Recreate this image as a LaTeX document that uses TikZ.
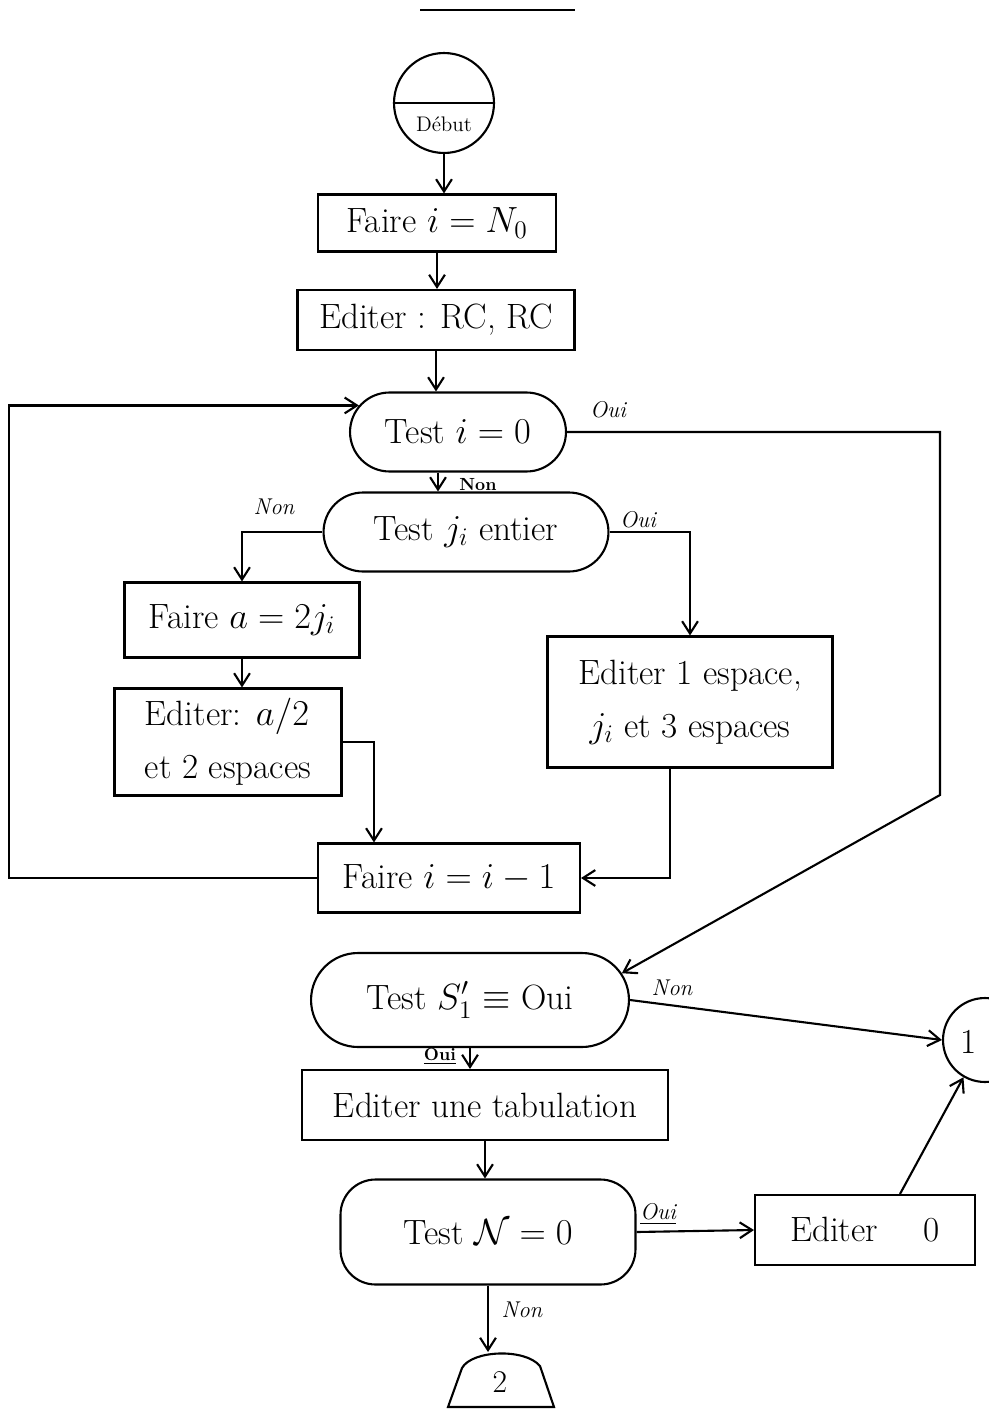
\documentclass[tikz,border=0pt]{standalone}
\usepackage{amsmath}
\usepackage{amssymb}
\usepackage{tikz}
\usetikzlibrary{shapes.misc, arrows.meta, calc}

\begin{document}
\begin{tikzpicture}[x=0.02cm, y=-0.02cm, line width=1.2pt,
        boite/.style={draw, rectangle, inner sep=2pt, align=center,
            font=\fontsize{20}{30}\selectfont},
        test/.style={draw, rounded rectangle, inner sep=2pt,
            font=\fontsize{20}{30}\selectfont},
        renvoi/.style={draw, circle, inner sep=0pt,
            font=\fontsize{20}{24}\selectfont},
        etiq/.style={font=\fontsize{13}{15}\selectfont\itshape},
        fl/.style={-{Straight Barb[length=7pt, width=9pt]}}]
        \useasboundingbox (0, 0) rectangle (988, 1409);

        % Debut
        \draw (420, 10) -- (575, 10);
        \node[renvoi, minimum size=2cm] (debut) at (444, 103) {};
        \draw (debut.west) -- (debut.east);
        \node[font=\fontsize{12}{14}\selectfont] (debutlbl) at (444, 124) {Début};

        % Initialisation
        \node[boite, minimum width=4.76cm, minimum height=1.14cm] (faire1) at (437, 223) {Faire $i = N_0$};
        \node[boite, minimum width=5.54cm, minimum height=1.2cm] (editer1) at (436, 320) {Editer : RC, RC};
        \node[test, minimum width=4.46cm, minimum height=1.58cm] (testi) at (458, 432) {Test $i = 0$};
        \node[test, minimum width=5.84cm, minimum height=1.58cm] (testj) at (466, 532) {Test $j_i$ entier};

        % Boucle
        \node[boite, minimum width=4.7cm, minimum height=1.5cm] (fairea) at (242, 620) {Faire $a = 2j_i$};
        \node[boite, align=left, minimum width=4.54cm, minimum height=2.14cm] (editera) at (228, 742) {Editer: $a/2$\\et 2 espaces};
        \node[boite, minimum width=5.7cm, minimum height=2.62cm] (editsp) at (690, 702) {Editer 1 espace,\\$j_i$ et 3 espaces};
        \node[boite, minimum width=5.24cm, minimum height=1.38cm] (faire2) at (449, 878) {Faire $i = i - 1$};

        % Fin
        \node[test, minimum width=6.5cm, minimum height=1.88cm] (testS) at (470, 1000) {Test $S'_1 \equiv$ Oui};
        \node[boite, minimum width=7.32cm, minimum height=1.4cm] (editab) at (485, 1105) {Editer une tabulation};
        \node[boite, rounded corners=0.7cm, minimum width=5.9cm, minimum height=2.1cm] (testN) at (488, 1232) {Test $\mathcal{N} = 0$};
        \node[boite, minimum width=4.4cm, minimum height=1.4cm] (edit0) at (865, 1230) {Editer \quad 0};
        \node[renvoi, minimum size=1.68cm] (c1) at (985, 1040) {};
        \node[font=\fontsize{20}{24}\selectfont] (un) at (969, 1042) {1};

        % Renvoi 2
        \coordinate (haut2) at (497, 1352);
        \draw (448, 1407) -- (462, 1368) .. controls (472, 1350) and (525, 1348) .. (540, 1366) -- (554, 1407) -- cycle;
        \node[font=\fontsize{18}{20}\selectfont] (c2) at (500, 1382) {2};

        % Connecteurs
        \draw[fl] (debut.south) -- (debut.south |- faire1.north);
        \draw[fl] (faire1.south) -- (faire1.south |- editer1.north);
        \draw[fl] (editer1.south) -- (editer1.south |- testi.north);
        \draw[fl] (faire2.west) -- ++(-308, 0) |- (testi.165);
        \draw[fl] (testi.east) -| (940, 795) -- (testS.10);
        \draw[fl] ($(testi.south) + (-20, 0)$) -- ($(testi.south |- testj.north) + (-20, 0)$);
        \draw[fl] (testj.west) -| (fairea.north);
        \draw[fl] (testj.east) -| (editsp.north);
        \draw[fl] (fairea.south) -- (fairea.south |- editera.north);
        \draw[fl] (editera.east) -| ($(faire2.north west) + (57, 0)$);
        \draw[fl] ($(editsp.south) + (-20, 0)$) |- (faire2.east);
        \draw[fl] (testS.east) -- (c1.west);
        \draw[fl] (testS.south) -- (testS.south |- editab.north);
        \draw[fl] (editab.south) -- (editab.south |- testN.north);
        \draw[fl] (testN.east) -- (edit0.west);
        \draw[fl] ($(edit0.north) + (35, 0)$) -- (c1.240);
        \draw[fl] (testN.south) -- (testN.south |- haut2);

        % Etiquettes
        \node[etiq] (ouii) at (608, 410) {Oui};
        \node[etiq, font=\fontsize{10}{12}\selectfont\bfseries] (noni) at (478, 485) {Non};
        \node[etiq] (nonj) at (274, 507) {Non};
        \node[etiq] (ouij) at (638, 520) {Oui};
        \node[etiq] (nons) at (672, 988) {Non};
        \node[etiq, font=\fontsize{10}{12}\selectfont\bfseries] (ouis) at (440, 1056) {\underline{Oui}};
        \node[etiq] (ouin) at (658, 1214) {\underline{Oui}};
        \node[etiq] (nonn) at (522, 1310) {Non};
\end{tikzpicture}
\end{document}
